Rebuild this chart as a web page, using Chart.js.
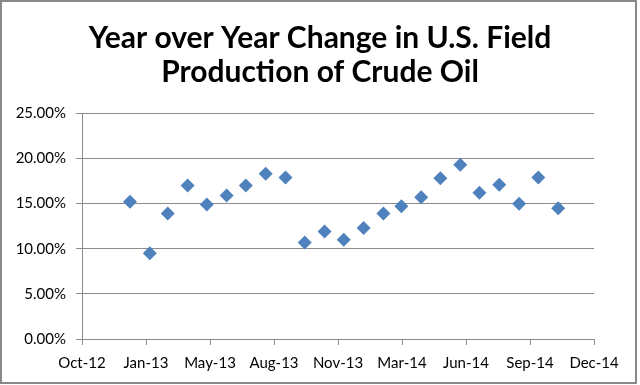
<!DOCTYPE html>
<html>
<head>
<meta charset="utf-8">
<script src="https://cdn.jsdelivr.net/npm/chart.js@4.4.1/dist/chart.umd.min.js"></script>
<style>
    html, body { margin: 0; padding: 0; background: #fff; }
    #wrap { width: 640px; height: 385px; position: relative; }
</style>
</head>
<body>
<div id="wrap"><canvas id="scatterChart" width="640" height="385"></canvas></div>
<script>
// months (first day of month) and year over year change, %
const months = [
    '2013-01', '2013-02', '2013-03', '2013-04', '2013-05', '2013-06', '2013-07', '2013-08',
    '2013-09', '2013-10', '2013-11', '2013-12', '2014-01', '2014-02', '2014-03', '2014-04',
    '2014-05', '2014-06', '2014-07', '2014-08', '2014-09', '2014-10', '2014-11'
];
const yoyChange = [
    15.2, 9.5, 13.9, 17.0, 14.9, 15.9, 17.0, 18.3,
    17.9, 10.7, 11.9, 11.0, 12.3, 13.9, 14.7, 15.7,
    17.8, 19.3, 16.2, 17.1, 15.0, 17.9, 14.5
];

// x axis runs on Excel date serials, like the original sheet
const xMin = 41200;
const xMax = 42000;
const xStep = 100;
const monthNames = ['Jan', 'Feb', 'Mar', 'Apr', 'May', 'Jun', 'Jul', 'Aug', 'Sep', 'Oct', 'Nov', 'Dec'];

function toSerial(ym) {
    const [y, m] = ym.split('-').map(Number);
    return Date.UTC(y, m - 1, 1) / 86400000 + 25569;
}

function serialLabel(v) {
    const d = new Date((v - 25569) * 86400000);
    return monthNames[d.getUTCMonth()] + '-' + String(d.getUTCFullYear()).slice(2);
}

const points = months.map((m, i) => ({x: toSerial(m), y: yoyChange[i]}));

const frame = {
    id: 'frame',
    beforeDraw(chart) {
        const c = chart.ctx;
        c.save();
        c.fillStyle = '#fff';
        c.fillRect(0, 0, chart.width, chart.height);
        c.strokeStyle = '#898989';
        c.lineWidth = 2;
        c.strokeRect(1, 1, 635, 382);
        c.restore();
    }
};

const axisGray = '#8c8c8c';
const tickFont = {family: 'Lato', size: 15};

window.onload = function () {
    let ctx = document.getElementById('scatterChart').getContext('2d');
    window.scatterChart = new Chart(ctx, {
        type: 'scatter',
        data: {
            datasets: [{
                label: 'YoY change',
                data: points,
                pointStyle: 'rectRot',
                pointRadius: 7,
                pointHoverRadius: 7,
                backgroundColor: '#4f81bd',
                borderColor: '#4f81bd',
                borderWidth: 0
            }]
        },
        options: {
            responsive: false,
            animation: false,
            layout: {padding: 0},
            plugins: {
                legend: {display: false},
                tooltip: {enabled: false},
                title: {
                    display: true,
                    text: ['Year over Year Change in U.S. Field', 'Production of Crude Oil'],
                    color: '#000',
                    font: {family: 'Lato', size: 30, weight: 'bold', lineHeight: 1.14},
                    padding: {top: 21, bottom: 24}
                }
            },
            scales: {
                x: {
                    type: 'linear',
                    min: xMin,
                    max: xMax,
                    afterBuildTicks(scale) {
                        const t = [];
                        for (let v = xMin; v <= xMax; v += xStep) t.push({value: v});
                        scale.ticks = t;
                    },
                    afterFit(scale) { scale.height = 46; },
                    grid: {drawOnChartArea: false, drawTicks: true, tickLength: 6, color: axisGray},
                    border: {display: true, color: axisGray},
                    ticks: {
                        color: '#000',
                        font: tickFont,
                        padding: 9,
                        maxRotation: 0,
                        autoSkip: false,
                        callback: v => serialLabel(v)
                    }
                },
                y: {
                    min: 0,
                    max: 25,
                    afterFit(scale) { scale.width = 82; },
                    grid: {color: axisGray, tickLength: 6},
                    border: {display: true, color: axisGray},
                    ticks: {
                        stepSize: 5,
                        color: '#000',
                        font: tickFont,
                        padding: 10,
                        callback: v => v.toFixed(2) + '%'
                    }
                },
                // empty right axis, only reserves the right margin
                yRight: {
                    position: 'right',
                    min: 0,
                    max: 25,
                    afterFit(scale) { scale.width = 46; },
                    grid: {display: false},
                    border: {display: false},
                    ticks: {display: false}
                }
            }
        },
        plugins: [frame]
    });
};
</script>
</body>
</html>
